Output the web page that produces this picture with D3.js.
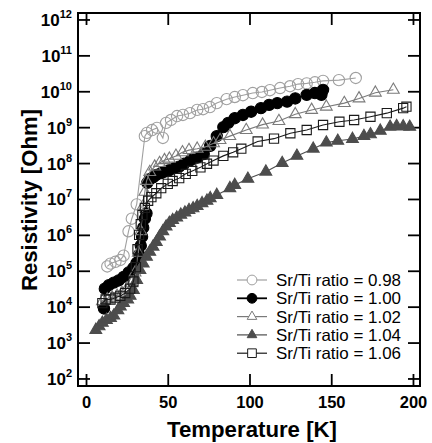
<!DOCTYPE html>
<html>
<head>
<meta charset="utf-8">
<script src="https://cdn.jsdelivr.net/npm/d3@7"></script>
<style>
  body { margin: 0; background: #fff; }
  svg text { font-family: "Liberation Sans", Arial, sans-serif; }
</style>
</head>
<body>
<div class="chartWrap"></div>
<script>
//Data: temperature [K] and log10 of resistivity [Ohm] for each Sr/Ti ratio
const labels = ["Sr/Ti ratio = 0.98", "Sr/Ti ratio = 1.00", "Sr/Ti ratio = 1.02", "Sr/Ti ratio = 1.04", "Sr/Ti ratio = 1.06"];
const xTicks = [0, 50, 100, 150, 200];
const yTickExp = [2, 3, 4, 5, 6, 7, 8, 9, 10, 11, 12];

const t098 = [13, 15, 18, 21, 23, 26, 28, 31, 36, 37.3, 40.4, 43.4, 47, 49, 52, 55.7, 59.3, 63.6, 68, 71.6, 75.8, 80, 86, 91, 96, 102, 107.6, 112.5, 118.7, 124.8, 129.7, 135, 140, 145, 154.7, 165];
const r098 = [5.12, 5.2, 5.25, 5.3, 5.42, 6.1, 6.45, 6.85, 8.75, 8.84, 8.92, 8.98, 8.7, 9.12, 9.2, 9.31, 9.34, 9.39, 9.48, 9.5, 9.56, 9.67, 9.78, 9.84, 9.89, 9.95, 9.98, 10.03, 10.09, 10.14, 10.2, 10.22, 10.25, 10.29, 10.31, 10.37];

const t100 = [11, 11.5, 14, 17, 20, 23, 26, 29, 31, 32.5, 33.5, 34.3, 35, 36, 37, 37.5, 39, 41, 43, 46, 48, 51, 54, 57, 60, 64, 68, 72, 76, 80, 84, 87, 91, 96, 101, 107, 112, 117, 123, 128, 135, 140, 144, 145];
const r100 = [3.95, 4.5, 4.6, 4.67, 4.73, 4.83, 4.95, 5.08, 5.22, 5.45, 5.7, 5.95, 6.2, 6.45, 6.6, 7.45, 7.55, 7.6, 7.67, 7.72, 7.76, 7.8, 7.86, 7.9, 7.98, 8.08, 8.15, 8.25, 8.48, 8.75, 9.0, 9.12, 9.25, 9.34, 9.43, 9.53, 9.62, 9.67, 9.71, 9.8, 9.9, 9.95, 9.9, 10.04];

const t102 = [10, 13, 16, 19, 22, 25, 28, 30, 32, 33.5, 35, 36, 37, 39, 42, 45, 48, 51, 55, 59, 63, 68, 73, 78, 82, 88, 98, 108, 118, 128, 138, 147, 158, 167, 177, 188];
const r102 = [4.15, 4.2, 4.25, 4.3, 4.38, 4.5, 4.65, 4.95, 5.5, 6.1, 6.8, 7.2, 7.5, 7.75, 7.9, 8.0, 8.08, 8.12, 8.2, 8.3, 8.36, 8.4, 8.45, 8.55, 8.64, 8.75, 8.92, 9.07, 9.17, 9.36, 9.48, 9.57, 9.67, 9.8, 9.96, 10.04];

const t104 = [6, 8, 10, 12.5, 15, 17, 19.5, 21, 23, 25.5, 27, 29, 31, 33, 35, 37, 39, 41, 43, 45, 47, 49, 51, 53, 55.5, 58, 60.5, 63, 65.5, 68, 71, 74, 76, 80, 88, 91, 99, 110, 120, 129, 139, 147, 154, 163, 170, 174, 180, 186, 190, 194, 198];
const r104 = [3.35, 3.45, 3.55, 3.63, 3.68, 3.75, 3.9, 4.0, 4.1, 4.2, 4.3, 4.46, 4.74, 5.02, 5.2, 5.39, 5.53, 5.67, 5.8, 5.95, 6.1, 6.23, 6.33, 6.41, 6.48, 6.56, 6.62, 6.69, 6.74, 6.8, 6.88, 6.95, 7.02, 7.11, 7.3, 7.39, 7.56, 7.76, 8.0, 8.2, 8.4, 8.57, 8.62, 8.67, 8.75, 8.8, 8.9, 9.01, 9.03, 9.02, 9.01];

const t106 = [10, 12, 15, 18, 21, 24, 27, 29, 30.5, 31.5, 32.5, 33.5, 34.5, 36, 38, 40, 43, 46, 50, 53, 57, 61, 65, 70, 74, 78, 84, 90, 95, 105, 115, 125, 135, 145, 155, 164, 174, 184, 194, 196];
const r106 = [4.1, 4.2, 4.2, 4.25, 4.3, 4.38, 4.5, 4.7, 5.1, 5.6, 6.0, 6.3, 6.55, 6.75, 6.95, 7.05, 7.16, 7.3, 7.42, 7.5, 7.58, 7.7, 7.78, 7.88, 7.98, 8.07, 8.2, 8.3, 8.4, 8.6, 8.68, 8.83, 8.92, 9.06, 9.15, 9.2, 9.29, 9.39, 9.53, 9.57];

(function() {
  const W = 432, H = 443;
  const left = 78, right = 420, top = 13, bottom = 386;

  const x = d3.scaleLinear().domain([-4.9, 204.3]).range([left, right]);
  const y = d3.scaleLog().domain([Math.pow(10, 1.79), Math.pow(10, 12.18)]).range([bottom, top]);

  //Series styles
  const series = [
    {t: t098, r: r098, color: "#a0a0a0", shape: "circle", fill: "none", size: 100},
    {t: t100, r: r100, color: "#000", shape: "circle", fill: "#000", size: 100},
    {t: t102, r: r102, color: "#7a7a7a", shape: "triangle", fill: "none", size: 60},
    {t: t104, r: r104, color: "#4d4d4d", shape: "triangle", fill: "#4d4d4d", size: 60},
    {t: t106, r: r106, color: "#1a1a1a", shape: "square", fill: "none", size: 85}
  ];
  const symbolType = {circle: d3.symbolCircle, triangle: d3.symbolTriangle, square: d3.symbolSquare};

  let svg = d3.select(".chartWrap").append("svg").attr("width", W).attr("height", H);

  //Axes with inward ticks
  const gB = svg.append("g").attr("transform", "translate(0," + bottom + ")")
    .call(d3.axisBottom(x).tickValues(xTicks).tickSize(-12).tickSizeOuter(0).tickPadding(10));
  gB.selectAll("text").attr("font-size", 16.5).attr("font-weight", "bold").attr("fill", "#000");
  const gT = svg.append("g").attr("transform", "translate(0," + top + ")")
    .call(d3.axisTop(x).tickValues(xTicks).tickSize(-12).tickSizeOuter(0).tickFormat(""));
  const yVals = yTickExp.map(e => Math.pow(10, e));
  const gL = svg.append("g").attr("transform", "translate(" + left + ",0)")
    .call(d3.axisLeft(y).tickValues(yVals).tickSize(-12).tickSizeOuter(0).tickFormat(""));
  const gR = svg.append("g").attr("transform", "translate(" + right + ",0)")
    .call(d3.axisRight(y).tickValues(yVals).tickSize(-12).tickSizeOuter(0).tickFormat(""));
  [gB, gT, gL, gR].forEach(g => {
    g.select(".domain").remove();
    g.selectAll("line").attr("stroke", "#000").attr("stroke-width", 1.8);
  });
  //Y tick labels with superscript exponents
  gL.selectAll(".tick").each(function(d, i) {
    d3.select(this).select("text").remove();
    let txt = d3.select(this).append("text").attr("x", -6).attr("y", 6)
      .attr("text-anchor", "end").attr("font-weight", "bold").attr("fill", "#000");
    txt.append("tspan").attr("font-size", 17).text("10");
    txt.append("tspan").attr("font-size", 11).attr("dy", -8).text(yTickExp[i]);
  });

  //Frame
  svg.append("rect").attr("x", left).attr("y", top).attr("width", right - left).attr("height", bottom - top)
    .attr("fill", "none").attr("stroke", "#000").attr("stroke-width", 2);

  //Axis titles
  svg.append("text").attr("x", 252).attr("y", 437).attr("text-anchor", "middle")
    .attr("font-size", 22).attr("font-weight", "bold")
    .attr("textLength", 170).attr("lengthAdjust", "spacingAndGlyphs").text("Temperature [K]");
  svg.append("text").attr("transform", "translate(37,200) rotate(-90)").attr("text-anchor", "middle")
    .attr("font-size", 22).attr("font-weight", "bold")
    .attr("textLength", 182).attr("lengthAdjust", "spacingAndGlyphs").text("Resistivity [Ohm]");

  //Lines and markers
  const line = d3.line().x(d => x(d[0])).y(d => y(Math.pow(10, d[1])));
  series.forEach(s => {
    let pts = s.t.map((t, i) => [t, s.r[i]]);
    let g = svg.append("g");
    g.selectAll(".mark").data(pts).enter().append("path")
      .attr("class", "mark")
      .attr("transform", d => "translate(" + x(d[0]) + "," + y(Math.pow(10, d[1])) + ")")
      .attr("d", d3.symbol().type(symbolType[s.shape]).size(s.size))
      .attr("fill", s.fill).attr("stroke", s.color).attr("stroke-width", 1.1);
    g.append("path").datum(pts).attr("d", line)
      .attr("fill", "none").attr("stroke", s.color).attr("stroke-width", 1.1);
  });

  //Legend
  const lg = svg.append("g").attr("transform", "translate(237,280)");
  series.forEach((s, i) => {
    let row = lg.append("g").attr("transform", "translate(0," + (i * 18.3) + ")");
    row.append("line").attr("x1", 0).attr("x2", 30).attr("y1", 0).attr("y2", 0)
      .attr("stroke", s.color).attr("stroke-width", i === 1 ? 1.8 : 1.2);
    row.append("path").attr("transform", "translate(15,0)")
      .attr("d", d3.symbol().type(symbolType[s.shape]).size(s.shape === "triangle" ? 40 : 75))
      .attr("fill", s.fill === "none" ? "#fff" : s.fill).attr("stroke", s.color).attr("stroke-width", 1);
    row.append("text").attr("x", 39).attr("y", 6).attr("font-size", 16.5).attr("fill", "#000")
      .attr("textLength", 125).attr("lengthAdjust", "spacingAndGlyphs").text(labels[i]);
  });
})();
</script>
</body>
</html>
